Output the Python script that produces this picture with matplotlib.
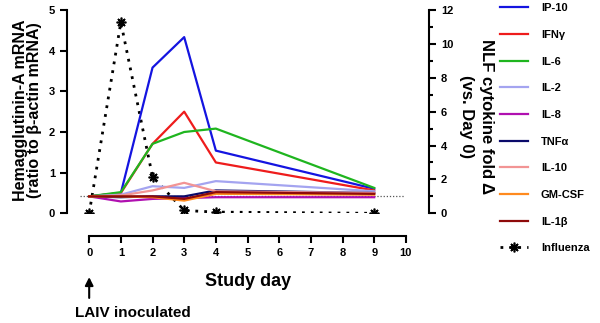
import numpy as np
import matplotlib
matplotlib.use('Agg')
import matplotlib.pyplot as plt
from matplotlib.lines import Line2D

plt.rcParams['font.family'] = ['Liberation Sans', 'DejaVu Sans']
plt.rcParams['font.weight'] = 'bold'

days = [0, 1, 2, 3, 4, 9]
influenza = [0, 4.7, 0.9, 0.07, 0.03, 0.0]

ip10 = [1, 1.2, 8.6, 10.4, 3.7, 1.45]
ifng = [1, 1.2, 4.1, 6.0, 3.0, 1.35]
il6 = [1, 1.25, 4.1, 4.8, 5.0, 1.5]
il2 = [1, 1.1, 1.6, 1.5, 1.9, 1.3]
il8 = [1, 0.7, 0.85, 0.9, 0.95, 0.95]
tnfa = [1, 0.95, 1.0, 1.0, 1.35, 1.2]
il10 = [1, 1.05, 1.35, 1.8, 1.3, 1.2]
gmcsf = [1, 1.0, 0.95, 0.75, 1.15, 1.1]
il1b = [1, 1.0, 1.0, 0.85, 1.25, 1.15]

cytokines = [
    ('IP-10', ip10, '#1414e0'),
    ('IFNγ', ifng, '#ee1c1c'),
    ('IL-6', il6, '#1fb51f'),
    ('IL-2', il2, '#a4a4f0'),
    ('IL-8', il8, '#b010b0'),
    ('TNFα', tnfa, '#0a0a6a'),
    ('IL-10', il10, '#f29494'),
    ('GM-CSF', gmcsf, '#ff8a1e'),
    ('IL-1β', il1b, '#8e0a0a'),
]

fig = plt.figure(figsize=(6, 3.23), dpi=100)
ax = fig.add_axes([0.1117, 0.3396, 0.6033, 0.6294])
ax2 = ax.twinx()

# influenza on left axis
flu_style = dict(color='black', lw=2, linestyle=(0, (1, 2.2)),
                 marker=(8, 2, 0), markersize=7, mew=1.2)
ax.plot(days, influenza, zorder=5, **flu_style)
ax.set_xlim(-0.7, 10.73)
ax.set_ylim(0, 5)

# cytokines on right axis
ax2.plot([-0.3, 9.97], [1, 1], color='#555555', lw=0.9, linestyle=(0, (1, 1.5)))
handles = []
for name, vals, col in cytokines:
    ax2.plot(days, vals, color=col, lw=1.6)
    handles.append(Line2D([], [], color=col, lw=1.6, label=name))
handles.append(Line2D([], [], label='Influenza', **flu_style))
ax2.set_ylim(0, 12)

# spines
for s in ['top', 'right']:
    ax.spines[s].set_visible(False)
for s in ['top', 'left', 'bottom']:
    ax2.spines[s].set_visible(False)
ax.spines['left'].set_linewidth(1.5)
ax.spines['bottom'].set_linewidth(1.5)
ax2.spines['right'].set_linewidth(1.5)
ax.spines['bottom'].set_position(('outward', 16.3))
ax.spines['bottom'].set_bounds(0, 10)
ax.spines['left'].set_bounds(0, 5)
ax2.spines['right'].set_bounds(0, 12)

ax.set_xticks(range(0, 11))
ax.set_yticks(range(0, 6))
ax2.set_yticks(range(0, 13, 2))
ax2.set_yticks(range(1, 12, 2), minor=True)
ax.tick_params(axis='both', width=1.5, length=5, labelsize=8)
ax2.tick_params(axis='y', which='major', width=1.5, length=5, labelsize=8)
ax2.tick_params(axis='y', which='minor', width=1.5, length=3)
for lab in ax.get_xticklabels() + ax.get_yticklabels() + ax2.get_yticklabels():
    lab.set_fontweight('bold')

ax.set_xlabel('Study day', fontsize=13, fontweight='bold', labelpad=11)
fig.text(0.046, 0.659, 'Hemagglutinin-A mRNA\n(ratio to β-actin mRNA)', rotation=90,
         ha='center', va='center', fontsize=11.5, fontweight='bold', linespacing=0.95)
fig.text(0.794, 0.639, 'NLF cytokine fold Δ\n(vs. Day 0)', rotation=270,
         ha='center', va='center', fontsize=12, fontweight='bold', linespacing=1.4)

# inoculation arrow
ax.annotate('', xy=(0, -0.30), xytext=(0, -0.43), xycoords=('data', 'axes fraction'),
            textcoords=('data', 'axes fraction'), annotation_clip=False,
            arrowprops=dict(arrowstyle='-|>', color='black', lw=1.5, mutation_scale=12))
ax.text(1.39, -0.49, 'LAIV inoculated', transform=ax.get_xaxis_transform(),
        ha='center', va='center', fontsize=11, fontweight='bold')

fig.legend(handles=handles, loc='upper left', bbox_to_anchor=(0.833, 0.99),
           frameon=False, prop={'weight': 'bold', 'size': 8},
           handlelength=2.5, handletextpad=1.2, labelspacing=1.5,
           borderpad=0, borderaxespad=0)

fig.savefig('out.png', dpi=100)
